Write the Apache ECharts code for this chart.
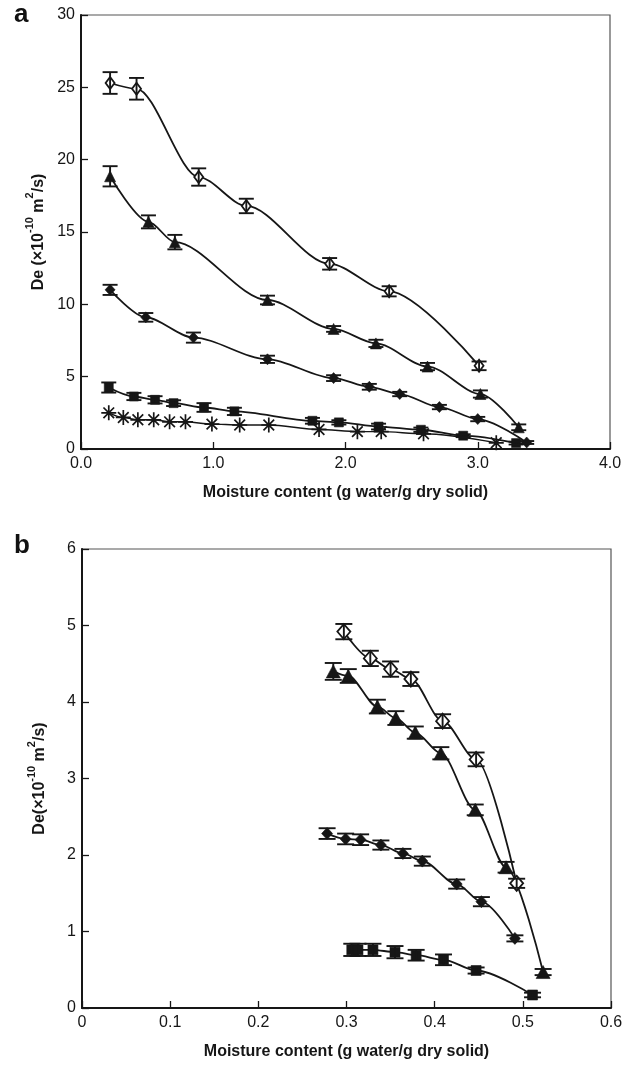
<!DOCTYPE html>
<html>
<head>
<meta charset="utf-8">
<script src="https://cdn.jsdelivr.net/npm/echarts@6/dist/echarts.min.js"></script>
<style>
html,body{margin:0;padding:0;background:#fff;}
#chart{width:633px;height:1068px;}
</style>
</head>
<body>
<div id="chart"></div>
<script>
// ---------- Panel a data: [moisture, De, error] ----------
const aOpenDiamond = [[0.22,25.3,0.75],[0.42,24.9,0.75],[0.89,18.8,0.6],[1.25,16.8,0.5],[1.88,12.8,0.4],[2.33,10.9,0.35],[3.01,5.75,0.3]];
const aTriangle = [[0.22,18.85,0.7],[0.51,15.7,0.45],[0.71,14.3,0.5],[1.41,10.3,0.3],[1.91,8.3,0.2],[2.23,7.3,0.25],[2.62,5.7,0.25],[3.02,3.8,0.25],[3.31,1.5,0.2]];
const aFilledDiamond = [[0.22,11.0,0.35],[0.49,9.1,0.3],[0.85,7.7,0.35],[1.41,6.2,0.25],[1.91,4.9,0.2],[2.18,4.3,0.2],[2.41,3.8,0.15],[2.71,2.9,0.15],[3.0,2.07,0.15],[3.37,0.45,0.1]];
const aSquare = [[0.21,4.25,0.35],[0.40,3.63,0.25],[0.56,3.4,0.25],[0.70,3.17,0.2],[0.93,2.87,0.3],[1.16,2.6,0.25],[1.75,1.95,0.2],[1.95,1.84,0.15],[2.25,1.55,0.2],[2.57,1.33,0.15],[2.89,0.92,0.1],[3.29,0.41,0.1]];
const aAsterisk = [[0.21,2.5],[0.32,2.18],[0.43,2.02],[0.55,2.02],[0.67,1.88],[0.79,1.88],[0.99,1.72],[1.2,1.66],[1.42,1.66],[1.8,1.35],[2.09,1.2],[2.27,1.2],[2.59,1.05],[3.14,0.43]];

// ---------- Panel b data ----------
const bOpenDiamond = [[0.297,4.92,0.1],[0.327,4.57,0.1],[0.350,4.43,0.1],[0.373,4.30,0.09],[0.409,3.75,0.09],[0.447,3.25,0.09],[0.493,1.63,0.06]];
const bTriangle = [[0.285,4.40,0.11],[0.302,4.34,0.09],[0.335,3.94,0.09],[0.356,3.79,0.09],[0.378,3.60,0.08],[0.407,3.33,0.08],[0.446,2.59,0.07],[0.481,1.84,0.07],[0.523,0.47,0.04]];
const bFilledDiamond = [[0.278,2.28,0.07],[0.299,2.21,0.07],[0.316,2.20,0.07],[0.339,2.13,0.06],[0.364,2.02,0.06],[0.386,1.92,0.06],[0.425,1.62,0.06],[0.453,1.39,0.06],[0.491,0.91,0.04]];
const bSquare = [[0.306,0.76,0.08],[0.313,0.76,0.08],[0.330,0.76,0.08],[0.355,0.73,0.08],[0.379,0.69,0.07],[0.410,0.63,0.07],[0.447,0.49,0.04],[0.511,0.17,0.03]];

// ---------- Axis ticks ----------
const aXTicks = {min:0, max:4, interval:1};
const aYTicks = {min:0, max:30, interval:5};
const bXTicks = {min:0, max:0.6, interval:0.1};
const bYTicks = {min:0, max:6, interval:1};

const xName = 'Moisture content (g water/g dry solid)';
const INK = '#161616';
const FONT = 'Liberation Sans, Arial, Helvetica, sans-serif';

const ASTER = 'path://M0,-10L0,10M-10,0L10,0M-7.1,-7.1L7.1,7.1M-7.1,7.1L7.1,-7.1';

function yName(sep){
  return '{m|De' + sep + '(×10}{s|-10}{m| m}{s|2}{m|/s)}';
}
const nameRich = {
  m:{fontSize:16,fontWeight:'bold',fontFamily:FONT,color:INK,lineHeight:22,verticalAlign:'bottom'},
  s:{fontSize:11,fontWeight:'bold',fontFamily:FONT,color:INK,lineHeight:22,verticalAlign:'top'}
};

function xAxisCfg(idx, t, fmt){
  return {
    type:'value', gridIndex:idx, min:t.min, max:t.max, interval:t.interval,
    name:xName, nameLocation:'middle', nameGap:36,
    nameTextStyle:{fontSize:16,fontWeight:'bold',fontFamily:FONT,color:INK},
    axisLine:{show:true,onZero:false,lineStyle:{color:INK,width:2}},
    axisTick:{show:true,inside:true,length:7,lineStyle:{color:INK,width:1.3}},
    axisLabel:{fontSize:16,fontFamily:FONT,color:INK,margin:7,formatter:fmt,showMaxLabel:true,showMinLabel:true},
    splitLine:{show:false}
  };
}
function yAxisCfg(idx, t, nm){
  return {
    type:'value', gridIndex:idx, min:t.min, max:t.max, interval:t.interval,
    name:nm, nameLocation:'middle', nameGap:34, nameRotate:90,
    nameTextStyle:{rich:nameRich},
    axisLine:{show:true,onZero:false,lineStyle:{color:INK,width:2}},
    axisTick:{show:true,inside:true,length:7,lineStyle:{color:INK,width:1.3}},
    axisLabel:{fontSize:16,fontFamily:FONT,color:INK,margin:6},
    splitLine:{show:false}
  };
}

function lineSeries(idx, data, symbol, size, fill, lw){
  return {
    type:'line', xAxisIndex:idx, yAxisIndex:idx,
    data:data.map(d=>[d[0],d[1]]),
    smooth:0.3, smoothMonotone:'x',
    symbol:symbol, symbolSize:size, showAllSymbol:true,
    lineStyle:{color:INK,width:lw||1.8},
    itemStyle:{color:fill,borderColor:INK,borderWidth:fill==='#fff'?1.8:(symbol===ASTER?1.7:0.6)},
    z:3, silent:true, animation:false
  };
}
function errSeries(idx, data, hw){
  return {
    type:'custom', xAxisIndex:idx, yAxisIndex:idx,
    data:data, z:4, silent:true, animation:false,
    renderItem:function(params, api){
      const x=api.value(0), y=api.value(1), e=api.value(2);
      const t=api.coord([x,y+e]), b=api.coord([x,y-e]);
      const st={stroke:INK,lineWidth:1.9};
      return {type:'group',children:[
        {type:'line',shape:{x1:t[0],y1:t[1],x2:b[0],y2:b[1]},style:st},
        {type:'line',shape:{x1:t[0]-hw,y1:t[1],x2:t[0]+hw,y2:t[1]},style:st},
        {type:'line',shape:{x1:b[0]-hw,y1:b[1],x2:b[0]+hw,y2:b[1]},style:st}
      ]};
    }
  };
}

const fmtA = v => v.toFixed(1);
const fmtB = v => (v===0 ? '0' : v.toFixed(1));

const option = {
  backgroundColor:'#fff',
  animation:false,
  textStyle:{fontFamily:FONT},
  grid:[
    {left:81, top:15, width:529, height:434, show:true, borderColor:'#555', borderWidth:1.2, backgroundColor:'transparent'},
    {left:82, top:549, width:529, height:459, show:true, borderColor:'#555', borderWidth:1.2, backgroundColor:'transparent'}
  ],
  xAxis:[xAxisCfg(0,aXTicks,fmtA), xAxisCfg(1,bXTicks,fmtB)],
  yAxis:[yAxisCfg(0,aYTicks,yName(' ')), yAxisCfg(1,bYTicks,yName(''))],
  graphic:[
    {type:'text',left:14,top:2,style:{text:'a',fontSize:26,fontWeight:'bold',fontFamily:FONT,fill:'#111'}},
    {type:'text',left:14,top:533,style:{text:'b',fontSize:26,fontWeight:'bold',fontFamily:FONT,fill:'#111'}}
  ],
  series:[
    lineSeries(0,aOpenDiamond,'diamond',[9,12],'#fff'),
    errSeries(0,aOpenDiamond,7.5),
    lineSeries(0,aTriangle,'triangle',[11,11],INK),
    errSeries(0,aTriangle,7.5),
    lineSeries(0,aFilledDiamond,'diamond',[10,11],INK),
    errSeries(0,aFilledDiamond,7.5),
    lineSeries(0,aSquare,'rect',[9,9],INK),
    errSeries(0,aSquare,7.5),
    lineSeries(0,aAsterisk,ASTER,[15,15],'none',1.4),

    lineSeries(1,bOpenDiamond,'diamond',[13,15],'#fff'),
    errSeries(1,bOpenDiamond,8.5),
    lineSeries(1,bTriangle,'triangle',[14,13],INK),
    errSeries(1,bTriangle,8.5),
    lineSeries(1,bFilledDiamond,'diamond',[11,12],INK),
    errSeries(1,bFilledDiamond,8.5),
    lineSeries(1,bSquare,'rect',[10,10],INK),
    errSeries(1,bSquare,8.5)
  ]
};

const chart = echarts.init(document.getElementById('chart'), null, {renderer:'canvas'});
chart.setOption(option);
</script>
</body>
</html>
